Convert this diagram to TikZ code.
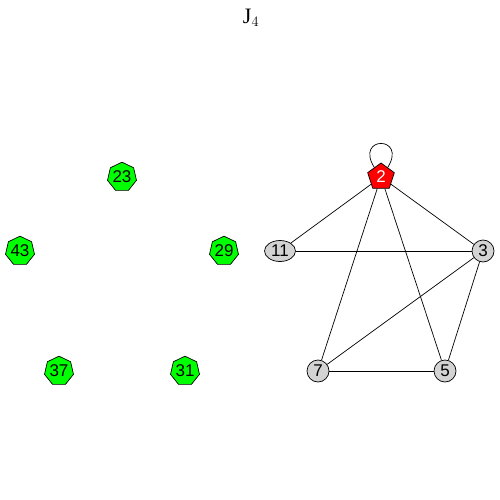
\documentclass[tikz,border=0pt]{standalone}
\usepackage{fontspec}
\setmainfont{Liberation Serif}
\newfontfamily\lblfont{Liberation Sans}
\usetikzlibrary{shapes.geometric}
\definecolor{vgray}{HTML}{D3D3D3}
\begin{document}
\begin{tikzpicture}[x=1pt, y=-1pt]
  \tikzstyle{vtx}=[draw, line width=0.7pt, inner sep=0pt, font=\lblfont\fontsize{17}{17}\selectfont]
  \tikzstyle{hept}=[vtx, regular polygon, regular polygon sides=7, minimum size=29pt, fill=green]
  \tikzstyle{roundv}=[vtx, circle, minimum size=22pt, fill=vgray]
  \tikzstyle{edge}=[line width=0.7pt, black]

  % moldura
  \useasboundingbox (0,0) rectangle (500,500);
  \node[font=\fontsize{22}{22}\selectfont] (title) at (251,18) {J$_4$};

  % componente isolada
  \node[hept] (v23) at (122,177) {23};
  \node[hept] (v43) at (20,251) {43};
  \node[hept] (v29) at (224,251) {29};
  \node[hept] (v37) at (59,371) {37};
  \node[hept] (v31) at (185,371) {31};

  % componente ligada
  \node[vtx, regular polygon, regular polygon sides=5, minimum size=28pt, fill=red, text=white] (v2) at (381,177) {2};
  \node[vtx, ellipse, minimum width=31pt, minimum height=21pt, fill=vgray] (v11) at (280,251) {11};
  \node[roundv] (v3) at (483,251) {3};
  \node[roundv] (v7) at (318,371) {7};
  \node[roundv] (v5) at (445,371) {5};

  \draw[edge] (v2) -- (v11);
  \draw[edge] (v2) -- (v3);
  \draw[edge] (v2) -- (v7);
  \draw[edge] (v2) -- (v5);
  \draw[edge] (v11) -- (v3);
  \draw[edge] (v3) -- (v7);
  \draw[edge] (v3) -- (v5);
  \draw[edge] (v7) -- (v5);
  \draw[edge] (v2.125) .. controls +(-20,-32) and +(20,-32) .. (v2.55);
\end{tikzpicture}
\end{document}
